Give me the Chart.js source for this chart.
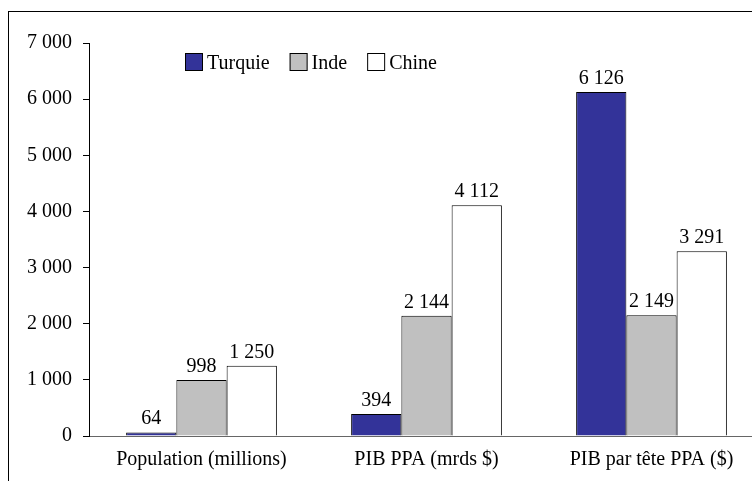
<!DOCTYPE html>
<html>
<head>
<meta charset="utf-8">
<script src="https://cdn.jsdelivr.net/npm/chart.js@4/dist/chart.umd.min.js"></script>
<style>
  html, body { margin: 0; padding: 0; background: #fff; overflow: hidden; width: 752px; height: 481px; }
  #frame { position: absolute; left: 8px; top: 11px; width: 1000px; height: 1000px; border: 1px solid #000; box-sizing: border-box; }
  #wrap { position: absolute; left: 0; top: 0; width: 770px; height: 481px; }
</style>
</head>
<body>
<div id="frame"></div>
<div id="wrap"><canvas id="c" width="770" height="481"></canvas></div>
<script>
const categories = ['Population (millions)', 'PIB PPA (mrds $)', 'PIB par tête PPA ($)'];
const seriesNames = ['Turquie', 'Inde', 'Chine'];
const turquie = [64, 394, 6126];
const inde = [998, 2144, 2149];
const chine = [1250, 4112, 3291];
const yTickLabels = ['0', '1 000', '2 000', '3 000', '4 000', '5 000', '6 000', '7 000'];
const colors = ['#333399', '#C0C0C0', '#FFFFFF'];

const FONT = '"Liberation Serif", "Times New Roman", serif';
function fmt(v) { return String(v).replace(/\B(?=(\d{3})+(?!\d))/g, ' '); }

const labelPlugin = {
  id: 'valueLabels',
  afterDatasetsDraw(chart) {
    const ctx = chart.ctx;
    ctx.save();
    ctx.font = '20px ' + FONT;
    ctx.fillStyle = '#000';
    ctx.textAlign = 'center';
    ctx.textBaseline = 'alphabetic';
    chart.data.datasets.forEach((ds, di) => {
      const meta = chart.getDatasetMeta(di);
      meta.data.forEach((el, i) => {
        ctx.fillText(fmt(ds.data[i]), el.x, el.y - 8);
      });
    });
    ctx.restore();
  }
};

const legendPlugin = {
  id: 'customLegend',
  afterDraw(chart) {
    const ctx = chart.ctx;
    ctx.save();
    ctx.font = '20px ' + FONT;
    ctx.textBaseline = 'alphabetic';
    let x = 185;
    const top = 53;
    chart.data.datasets.forEach((ds) => {
      ctx.fillStyle = ds.backgroundColor;
      ctx.fillRect(x, top, 18, 18);
      ctx.strokeStyle = '#000';
      ctx.lineWidth = 1;
      ctx.strokeRect(x + 0.5, top + 0.5, 17, 17);
      ctx.fillStyle = '#000';
      ctx.fillText(ds.label, x + 22, top + 16);
      x += 22 + ctx.measureText(ds.label).width + 20;
    });
    ctx.restore();
  }
};

new Chart(document.getElementById('c'), {
  type: 'bar',
  data: {
    labels: categories,
    datasets: [
      { label: seriesNames[0], data: turquie, backgroundColor: colors[0], borderColor: '#000', borderWidth: 1 },
      { label: seriesNames[1], data: inde, backgroundColor: colors[1], borderColor: '#000', borderWidth: 1 },
      { label: seriesNames[2], data: chine, backgroundColor: colors[2], borderColor: '#000', borderWidth: 1 }
    ]
  },
  options: {
    responsive: false,
    devicePixelRatio: 1,
    animation: false,
    layout: { padding: { top: 43, right: 6, bottom: 0, left: 0 } },
    datasets: { bar: { categoryPercentage: 0.67, barPercentage: 1.0 } },
    plugins: { legend: { display: false }, tooltip: { enabled: false } },
    scales: {
      x: {
        grid: { display: false, drawTicks: false },
        border: { display: true, color: '#666', width: 1 },
        ticks: { color: '#000', font: { family: FONT, size: 20 }, padding: 12, maxRotation: 0 },
        afterFit(s) { s.height = 45; }
      },
      y: {
        min: 0, max: 7000,
        ticks: {
          stepSize: 1000,
          color: '#000',
          font: { family: FONT, size: 20 },
          padding: 11,
          callback: (v, i) => yTickLabels[i]
        },
        grid: { display: true, drawOnChartArea: false, drawTicks: true, tickLength: 6, color: '#000' },
        border: { display: true, color: '#000', width: 1 },
        afterFit(s) { s.width = 89; }
      }
    }
  },
  plugins: [labelPlugin, legendPlugin]
});
</script>
</body>
</html>
